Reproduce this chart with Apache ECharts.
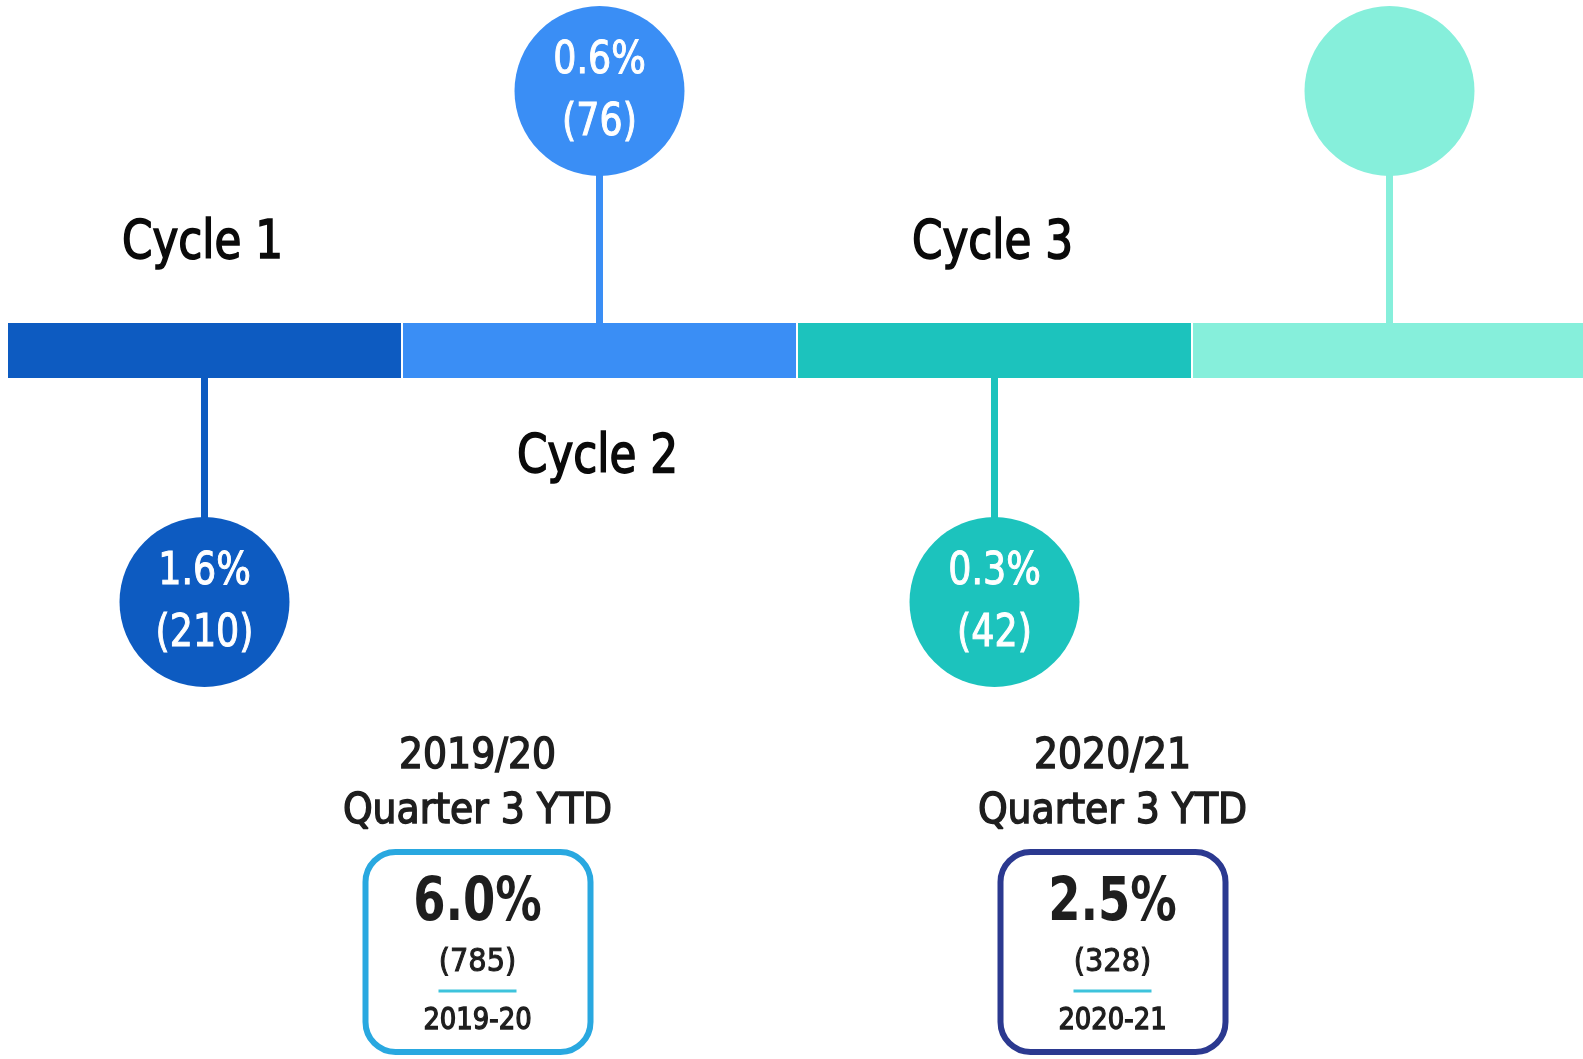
<!DOCTYPE html>
<html>
<head>
<meta charset="utf-8">
<script src="https://cdn.jsdelivr.net/npm/echarts@6/dist/echarts.min.js"></script>
<style>
  html, body { margin: 0; padding: 0; background: #fff; }
  #chart { width: 1583px; height: 1059px; }
</style>
</head>
<body>
<div id="chart"></div>
<script>
// timeline of cycles
const cycles = ['Cycle 1', 'Cycle 2', 'Cycle 3', 'Cycle 4'];
const cycleLabels = ['Cycle 1', 'Cycle 2', 'Cycle 3', ''];
const circleSide = [-1, 1, -1, 1];   // -1 = below the band, 1 = above
const rates = [1.6, 0.6, 0.3, null];
const counts = [210, 76, 42, null];

// year to date boxes
const periods = ['2019/20', '2020/21'];
const periodRates = [6.0, 2.5];
const periodCounts = [785, 328];
const periodShort = ['2019-20', '2020-21'];

const cycleColors = ['#0d5bc1', '#3a8ef5', '#1cc3bd', '#86efdb'];
const boxColors = ['#29a8e0', '#2b3990'];
const FONT = "'DejaVu Sans Condensed', 'DejaVu Sans', sans-serif";

// condensed text: DejaVu squeezed a bit to look like the DIN face in the original
function label(t, x, y, size, sx, color, weight, stroke) {
  return {
    type: 'text', x: x, y: y, scaleX: sx,
    style: {
      text: t, fill: color, font: (weight || 'normal') + ' ' + size + 'px ' + FONT,
      textAlign: 'center', textVerticalAlign: 'middle',
      stroke: stroke ? color : null, lineWidth: stroke || 0
    }
  };
}

function renderCycle(params, api) {
  const i = params.dataIndex;
  const side = api.value(1);
  const base = api.coord([api.value(0), 0]);
  const pt = api.coord([api.value(0), side]);
  const w = api.size([1, 0])[0];
  const color = cycleColors[i];
  const bandY = base[1] + 4;
  const children = [];
  // stem
  children.push({
    type: 'line',
    shape: { x1: pt[0], y1: bandY, x2: pt[0], y2: pt[1] },
    style: { stroke: color, lineWidth: 7 }
  });
  // band segment
  children.push({
    type: 'rect',
    shape: { x: base[0] - w / 2 + 1, y: bandY - 27.5, width: w - 2, height: 55 },
    style: { fill: color }
  });
  // circle
  children.push({
    type: 'circle',
    shape: { cx: pt[0], cy: pt[1], r: 85 },
    style: { fill: color }
  });
  if (rates[i] != null) {
    children.push(label(rates[i].toFixed(1) + '%', pt[0], pt[1] - 29, 44, 0.92, '#fff', 'normal', 1));
    children.push(label('(' + counts[i] + ')', pt[0], pt[1] + 33, 44, 0.92, '#fff', 'normal', 1));
  }
  if (cycleLabels[i]) {
    children.push(label(cycleLabels[i], base[0] - 2, bandY + side * 107, 54, 0.9, '#0a0a0a', 'normal', 1.6));
  }
  return { type: 'group', children: children };
}

function renderBox(params, api) {
  const i = params.dataIndex;
  const c = api.coord([api.value(0), 0]);
  const color = boxColors[i];
  const ink = '#1e1e1e';
  return {
    type: 'group',
    children: [
      label(periods[i], c[0], c[1] - 198, 42, 1, ink, 'normal', 1.4),
      label('Quarter 3 YTD', c[0], c[1] - 143, 42, 1, ink, 'normal', 1.4),
      {
        type: 'rect',
        shape: { x: c[0] - 112, y: c[1] - 103, width: 225, height: 200, r: 30 },
        style: { fill: '#fff', stroke: color, lineWidth: 6 }
      },
      label(periodRates[i].toFixed(1) + '%', c[0], c[1] - 51, 60, 0.86, ink, 'bold', 0),
      label('(' + periodCounts[i] + ')', c[0], c[1] + 8, 32, 1, ink, 'normal', 1),
      {
        type: 'line',
        shape: { x1: c[0] - 39, y1: c[1] + 36, x2: c[0] + 39, y2: c[1] + 36 },
        style: { stroke: '#3ec3dc', lineWidth: 3 }
      },
      label(periodShort[i], c[0], c[1] + 66, 30, 0.96, ink, 'normal', 1.3)
    ]
  };
}

const chart = echarts.init(document.getElementById('chart'));
chart.setOption({
  animation: false,
  grid: [
    { left: 7, width: 1580, top: 91, height: 511, outerBoundsMode: 'none', containLabel: false },
    { left: 160, right: 153, top: 851, height: 208, outerBoundsMode: 'none', containLabel: false }
  ],
  xAxis: [
    { type: 'category', gridIndex: 0, data: cycles, show: false },
    { type: 'category', gridIndex: 1, data: periods, show: false }
  ],
  yAxis: [
    { type: 'value', gridIndex: 0, min: -1, max: 1, show: false },
    { type: 'value', gridIndex: 1, min: -1, max: 1, show: false }
  ],
  series: [
    {
      type: 'custom',
      xAxisIndex: 0, yAxisIndex: 0,
      clip: false,
      renderItem: renderCycle,
      encode: { x: 0, y: 1 },
      data: cycles.map((c, i) => [i, circleSide[i]])
    },
    {
      type: 'custom',
      xAxisIndex: 1, yAxisIndex: 1,
      clip: false,
      renderItem: renderBox,
      encode: { x: 0, y: 1 },
      data: periods.map((p, i) => [i, 0])
    }
  ]
});
</script>
</body>
</html>
